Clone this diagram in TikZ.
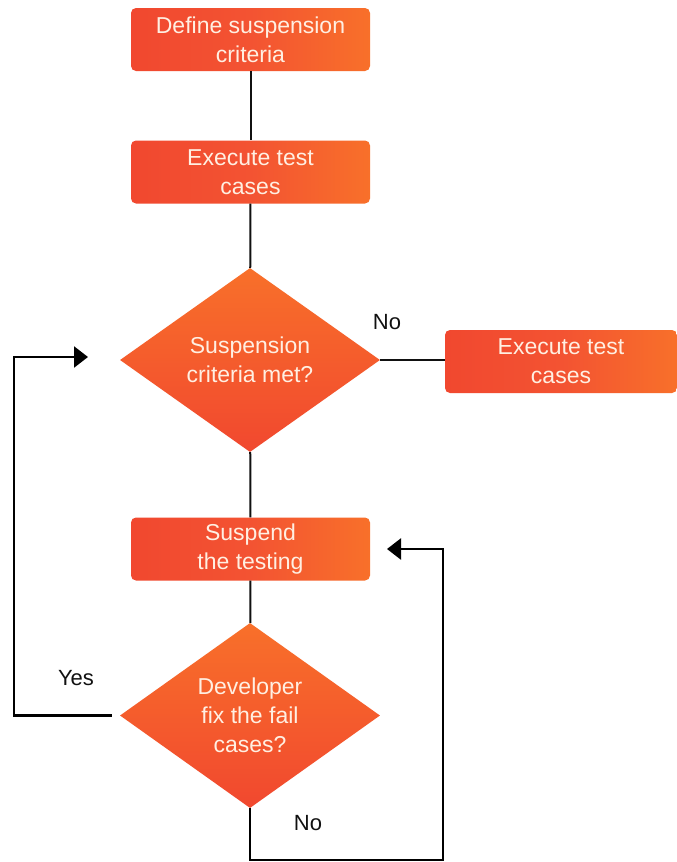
\documentclass[tikz,border=0pt]{standalone}
\usepackage{fontspec}
\setmainfont{Liberation Sans}
\usetikzlibrary{shapes.geometric,arrows.meta}
\definecolor{ored}{HTML}{F1482F}
\definecolor{omid}{HTML}{F35332}
\definecolor{oorange}{HTML}{F8702A}
\definecolor{txtc}{HTML}{FFEFE2}
\definecolor{linec}{HTML}{111111}
\tikzset{
  stepbox/.style={rectangle, rounded corners=5pt, minimum width=239pt, minimum height=63pt,
    left color=ored, right color=oorange, middle color=omid, draw=none, text=txtc, align=center,
    font=\fontsize{23}{29}\selectfont, inner sep=0pt},
  decision/.style={diamond, minimum width=260pt, minimum height=184pt, inner sep=0pt,
    top color=oorange, bottom color=ored, draw=none, text=txtc, align=center,
    font=\fontsize{23}{29}\selectfont},
  conn/.style={draw=linec, line width=2pt},
  loop/.style={draw=black, line width=2.4pt, -{Triangle[length=14pt,width=21pt]}},
  lbl/.style={text=linec, font=\fontsize{22}{26}\selectfont, inner sep=0pt}
}
\begin{document}
\begin{tikzpicture}[x=1pt,y=-1pt]
\useasboundingbox (0,0) rectangle (677,862);
\fill[white] (0,0) rectangle (677,862);
\node[stepbox] (s1) at (250.5,39.5) {Define suspension\\criteria};
\node[stepbox] (s2) at (250.5,172) {Execute test\\cases};
\node[decision] (d1) at (250,360) {Suspension\\criteria met?};
\node[stepbox, minimum width=232pt] (r1) at (561,361.5) {Execute test\\cases};
\node[stepbox] (s3) at (250.5,549) {Suspend\\the testing};
\node[decision, minimum height=185pt] (d2) at (250,715.5) {Developer\\fix the fail\\cases?};
\draw[conn] (s1) -- (s2);
\draw[conn] (s2) -- (d1);
\draw[conn] (d1) -- (s3);
\draw[conn] (s3) -- (d2);
\draw[conn] (d1.east) -- (d1.east -| r1.west);
\coordinate (yesend) at (88,357);
\coordinate (noend) at (387,549);
\draw[loop] ([xshift=-8pt]d2.west) -- (14,715.5) -- (14,357) -- (yesend);
\draw[loop] (d2.south) -- (250,860) -- (443,860) -- (443,549) -- (noend);
\node[lbl] (nolbl1) at (387,322) {No};
\node[lbl] (yeslbl) at (76,678) {Yes};
\node[lbl] (nolbl2) at (308,823) {No};
\end{tikzpicture}
\end{document}
